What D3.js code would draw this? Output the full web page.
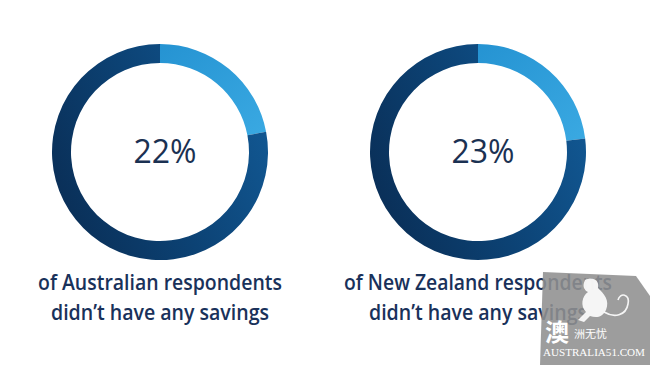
<!DOCTYPE html>
<html>
<head>
<meta charset="utf-8">
<script src="https://d3js.org/d3.v7.min.js"></script>
<style>
  body { margin: 0; background: #fff; }
  svg { display: block; }
</style>
</head>
<body>
<script>
// chart values
var regions = ["Australian", "New Zealand"];
var noSavings = [22, 23];                 // percent with no savings
var line1 = ["of Australian respondents", "of New Zealand respondents"];
var line2 = ["didn\u2019t have any savings", "didn\u2019t have any savings"];

var width = 650, height = 365;
var centers = [160, 478];   // donut centre x
var cy = 152;
var outerR = 108, innerR = 89;

var svg = d3.select("body")
    .append("svg")
    .attr("width", width)
    .attr("height", height);

// gradient for the remaining part of the ring (lighter right, darker left)
var defs = svg.append("defs");
var grad = defs.append("linearGradient")
    .attr("id", "restGrad")
    .attr("x1", "100%").attr("y1", "20%")
    .attr("x2", "0%").attr("y2", "60%");
grad.append("stop").attr("offset", "0%").attr("stop-color", "#125a96");
grad.append("stop").attr("offset", "55%").attr("stop-color", "#0c4274");
grad.append("stop").attr("offset", "100%").attr("stop-color", "#0a3059");

var lightGrad = defs.append("linearGradient")
    .attr("id", "lightGrad")
    .attr("x1", "0%").attr("y1", "0%")
    .attr("x2", "100%").attr("y2", "100%");
lightGrad.append("stop").attr("offset", "0%").attr("stop-color", "#2593d2");
lightGrad.append("stop").attr("offset", "100%").attr("stop-color", "#3aa9e2");

var pie = d3.pie().sort(null).value(function(d) { return d; });
var arc = d3.arc().innerRadius(innerR).outerRadius(outerR);

regions.forEach(function(r, i) {
    var g = svg.append("g")
        .attr("class", "donut")
        .attr("transform", "translate(" + centers[i] + "," + cy + ")");

    g.selectAll("path")
        .data(pie([noSavings[i], 100 - noSavings[i]]))
        .enter()
        .append("path")
        .attr("d", arc)
        .attr("fill", function(d, j) { return j === 0 ? "url(#lightGrad)" : "url(#restGrad)"; });

    g.append("text")
        .attr("x", 5)
        .attr("y", 11)
        .attr("text-anchor", "middle")
        .attr("font-family", "'Open Sans', sans-serif")
        .attr("font-size", 32)
        .attr("fill", "#1b3152")
        .text(noSavings[i] + "%");

    // caption under each donut
    var cap = svg.append("g")
        .attr("font-family", "'Open Sans', sans-serif")
        .attr("font-weight", 600)
        .attr("font-size", 21)
        .attr("fill", "#19315a")
        .attr("text-anchor", "middle");
    cap.append("text")
        .attr("x", centers[i])
        .attr("y", 290)
        .attr("textLength", i === 0 ? 244 : 268)
        .attr("lengthAdjust", "spacingAndGlyphs")
        .text(line1[i]);
    cap.append("text")
        .attr("x", centers[i])
        .attr("y", 320)
        .attr("textLength", 218)
        .attr("lengthAdjust", "spacingAndGlyphs")
        .text(line2[i]);
});

// watermark in the corner
var wm = svg.append("g").attr("class", "watermark");
wm.append("path")
    .attr("d", "M543,272 L636,276 L650,296 L650,365 L540,365 Z")
    .attr("fill", "#8f8f8f")
    .attr("opacity", 0.88);
// rough kangaroo outline
wm.append("path")
    .attr("d", "M585,280 C592,276 600,280 598,288 C604,294 610,300 606,310 C602,318 596,318 590,316 " +
               "L584,322 L578,320 L586,312 C580,306 582,296 588,292 C584,290 582,286 585,280 Z")
    .attr("fill", "#ffffff")
    .attr("opacity", 0.9);
wm.append("path")
    .attr("d", "M604,312 C614,318 626,316 628,304 C630,294 620,292 618,300")
    .attr("fill", "none")
    .attr("stroke", "#ffffff")
    .attr("stroke-width", 1.6)
    .attr("opacity", 0.9);
wm.append("text")
    .attr("x", 545).attr("y", 341)
    .attr("font-family", "'Noto Sans CJK SC', sans-serif")
    .attr("font-size", 24)
    .attr("font-weight", 700)
    .attr("fill", "#ffffff")
    .text("\u6fb3");
wm.append("text")
    .attr("x", 574).attr("y", 338)
    .attr("font-family", "'Noto Sans CJK SC', sans-serif")
    .attr("font-size", 11)
    .attr("fill", "#ffffff")
    .text("\u6d32\u65e0\u5fe7");
wm.append("text")
    .attr("x", 543).attr("y", 356)
    .attr("font-family", "'Liberation Serif', serif")
    .attr("font-size", 11)
    .attr("textLength", 102)
    .attr("lengthAdjust", "spacingAndGlyphs")
    .attr("fill", "#ffffff")
    .text("AUSTRALIA51.COM");
</script>
</body>
</html>
